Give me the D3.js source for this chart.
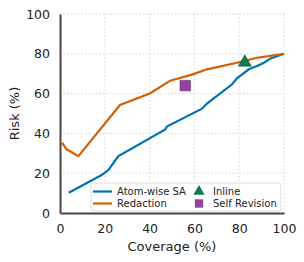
<!DOCTYPE html>
<html>
<head>
<meta charset="utf-8">
<script src="https://cdn.jsdelivr.net/npm/d3@7"></script>
<style>
  body { margin: 0; background: #fff; }
  text { font-family: "DejaVu Sans", sans-serif; fill: #222; }
  .grid line { stroke: #ccc; stroke-dasharray: 1.2,2.4; stroke-width: 1; }
</style>
</head>
<body>
<script>
const w = 304, h = 262;
const margin = {left: 60, right: 20, top: 14, bottom: 49};
const innerW = w - margin.left - margin.right;
const innerH = h - margin.top - margin.bottom;

// Atom-wise SA curve
const saCoverage = [3.9, 18.6, 21.6, 26.1, 47, 47.7, 63.4, 65.6, 76.8, 79, 84.3, 88, 91, 94, 100];
const saRisk     = [10.2, 19.1, 21.6, 28.6, 42, 43.4, 52.4, 55, 64.7, 67.7, 72.2, 73.9, 75.5, 77.7, 80];
// Redaction curve
const redCoverage = [0.9, 3, 8.2, 26.8, 40.3, 49.2, 59.6, 65.6, 79, 88, 100];
const redRisk     = [35.3, 32, 28.6, 54.3, 60.2, 66.5, 69.8, 72.2, 75.5, 78, 80];
// single points
const inlinePoint = [82.5, 75.7];
const selfRevPoint = [55.9, 64];
const ticks = [0, 20, 40, 60, 80, 100];

const colBlue = "#0072b2", colOrange = "#d55e00", colGreen = "#117a50", colPurple = "#8e44a0";

const svg = d3.select("body").append("svg").attr("width", w).attr("height", h);
const g = svg.append("g").attr("transform", "translate(" + margin.left + "," + margin.top + ")");

const x = d3.scaleLinear().domain([0, 100]).range([0, innerW]);
const y = d3.scaleLinear().domain([0, 100]).range([innerH, 0]);

// grid
g.append("g").attr("class", "grid")
  .selectAll("line.v").data(ticks.slice(1)).enter().append("line")
  .attr("x1", d => x(d)).attr("x2", d => x(d)).attr("y1", 0).attr("y2", innerH);
g.append("g").attr("class", "grid")
  .selectAll("line.h").data(ticks.slice(1)).enter().append("line")
  .attr("x1", 0).attr("x2", innerW).attr("y1", d => y(d)).attr("y2", d => y(d));

// axes
const xAxis = d3.axisBottom(x).tickValues(ticks).tickSize(0).tickPadding(11);
const yAxis = d3.axisLeft(y).tickValues(ticks).tickSize(0).tickPadding(10);
const gx = g.append("g").attr("transform", "translate(0," + innerH + ")").call(xAxis);
const gy = g.append("g").call(yAxis);
[gx, gy].forEach(a => {
  a.select(".domain").attr("stroke", "#444").attr("stroke-width", 2);
  a.selectAll("text").style("font-size", "12.5px").attr("fill", "#222");
});

// axis titles
svg.append("text").attr("x", margin.left + innerW / 2).attr("y", 251)
  .attr("text-anchor", "middle").style("font-size", "13px").text("Coverage (%)");
svg.append("text").attr("transform", "translate(19," + (margin.top + innerH / 2) + ") rotate(-90)")
  .attr("text-anchor", "middle").style("font-size", "13px").text("Risk (%)");

// lines
const line = d3.line().x(d => x(d[0])).y(d => y(d[1]));
g.append("path").datum(saCoverage.map((c, i) => [c, saRisk[i]]))
  .attr("d", line).attr("fill", "none").attr("stroke", colBlue).attr("stroke-width", 2.2);
g.append("path").datum(redCoverage.map((c, i) => [c, redRisk[i]]))
  .attr("d", line).attr("fill", "none").attr("stroke", colOrange).attr("stroke-width", 2.2);

// markers
const tri = d3.symbol().type(d3.symbolTriangle).size(75);
const sq = d3.symbol().type(d3.symbolSquare).size(110);
g.append("path").attr("d", tri).attr("transform", "translate(" + x(inlinePoint[0]) + "," + y(inlinePoint[1]) + ")")
  .attr("fill", colGreen).attr("stroke", "#0b5c3c").attr("stroke-width", 0.6);
g.append("path").attr("d", sq).attr("transform", "translate(" + x(selfRevPoint[0]) + "," + y(selfRevPoint[1]) + ")")
  .attr("fill", colPurple).attr("stroke", "#6d2f7c").attr("stroke-width", 0.6);

// legend
const lg = svg.append("g").attr("transform", "translate(91,183)");
lg.append("rect").attr("width", 190).attr("height", 28).attr("rx", 2)
  .attr("fill", "#fff").attr("fill-opacity", 0.85).attr("stroke", "#ddd");
const items = [
  {name: "Atom-wise SA", kind: "line", color: colBlue, cx: 2, cy: 8.5},
  {name: "Redaction", kind: "line", color: colOrange, cx: 2, cy: 20.5},
  {name: "Inline", kind: "tri", color: colGreen, cx: 108, cy: 8.5},
  {name: "Self Revision", kind: "sq", color: colPurple, cx: 108, cy: 20.5}
];
items.forEach(it => {
  if (it.kind === "line") {
    lg.append("line").attr("x1", it.cx).attr("x2", it.cx + 19).attr("y1", it.cy).attr("y2", it.cy)
      .attr("stroke", it.color).attr("stroke-width", 2.2);
    lg.append("text").attr("x", it.cx + 24).attr("y", it.cy).attr("dy", "0.35em")
      .style("font-size", "10px").text(it.name);
  } else {
    lg.append("path").attr("d", it.kind === "tri" ? d3.symbol().type(d3.symbolTriangle).size(55)() : d3.symbol().type(d3.symbolSquare).size(70)())
      .attr("transform", "translate(" + it.cx + "," + it.cy + ")").attr("fill", it.color);
    lg.append("text").attr("x", it.cx + 14).attr("y", it.cy).attr("dy", "0.35em")
      .style("font-size", "10px").text(it.name);
  }
});
</script>
</body>
</html>
